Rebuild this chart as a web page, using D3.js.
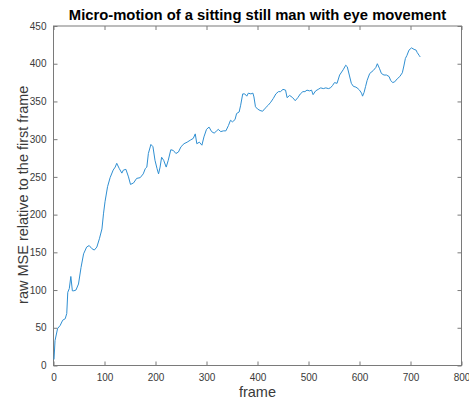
<!DOCTYPE html>
<html>
<head>
<meta charset="utf-8">
<script src="https://cdn.jsdelivr.net/npm/d3@7"></script>
<style>
  html, body { margin: 0; padding: 0; background: #fff; }
  svg { display: block; font-family: "Liberation Sans", Arial, Helvetica, sans-serif; }
</style>
</head>
<body>
<svg id="chart" width="469" height="401"></svg>
<script>
// Frame index and the raw MSE of each frame against the first one
const frames = [1, 3, 8, 13, 18, 23, 26, 28, 31, 34, 37, 40, 44, 49, 54, 59, 65, 70, 75, 80,
  85, 90, 95, 98, 101, 106, 111, 117, 121, 124, 129, 134, 137, 142, 147, 151, 157, 163, 170, 176,
  180, 183, 186, 191, 195, 199, 203, 206, 209, 212, 216, 221, 225, 230, 235, 240, 245, 250, 256, 262,
  269, 274, 278, 281, 286, 291, 295, 300, 305, 310, 315, 320, 323, 328, 333, 338, 343, 347, 351, 356,
  359, 364, 367, 371, 375, 379, 382, 387, 391, 393, 396, 400, 405, 410, 415, 421, 426, 431, 436, 441,
  445, 450, 455, 458, 463, 469, 474, 479, 484, 489, 493, 497, 502, 506, 509, 514, 519, 524, 529, 534,
  539, 543, 547, 551, 556, 561, 565, 568, 573, 576, 580, 584, 588, 593, 597, 600, 604, 606, 609, 612,
  615, 620, 627, 632, 635, 639, 643, 648, 653, 658, 661, 665, 669, 674, 679, 684, 687, 690, 693, 697,
  702, 707, 711, 713, 717, 719];
const mse = [8, 33, 49, 53, 60, 62, 69, 97, 102, 118, 99, 99, 100, 108, 130, 148, 157, 159, 155, 153,
  157, 168, 181, 201, 217, 237, 249, 259, 263, 268, 261, 255, 259, 260, 250, 240, 242, 248, 249, 254,
  261, 263, 281, 293, 290, 272, 261, 254, 263, 276, 272, 263, 272, 286, 285, 281, 283, 290, 294, 296,
  299, 301, 307, 294, 296, 292, 303, 313, 316, 310, 308, 311, 313, 310, 311, 311, 318, 325, 323, 326,
  334, 336, 345, 360, 360, 357, 361, 360, 361, 356, 343, 340, 338, 337, 341, 345, 349, 354, 360, 363,
  363, 366, 365, 355, 358, 355, 351, 355, 360, 363, 363, 365, 364, 365, 359, 364, 366, 368, 367, 368,
  367, 368, 371, 375, 374, 385, 389, 392, 398, 396, 385, 374, 370, 369, 367, 365, 361, 357, 362, 370,
  378, 387, 391, 395, 400, 394, 387, 385, 385, 383, 378, 375, 376, 380, 383, 388, 397, 407, 411, 418,
  421, 419, 418, 415, 411, 409];

const xTicks = [0, 100, 200, 300, 400, 500, 600, 700, 800];
const yTicks = [0, 50, 100, 150, 200, 250, 300, 350, 400, 450];

const titleText = "Micro-motion of a sitting still man with eye movement";
const xLabel = "frame";
const yLabel = "raw MSE relative to the first frame";

const svg = d3.select("#chart");
const box = { left: 53.5, right: 461.5, top: 26, bottom: 365.5 };

const x = d3.scaleLinear().domain([0, 800]).range([box.left, box.right]);
const y = d3.scaleLinear().domain([0, 450]).range([box.bottom, box.top]);

const axisColor = "#7a7a7a";
const textColor = "#3a3a3a";

function styleAxis(g, showText) {
  g.select(".domain").remove();
  g.selectAll(".tick line").attr("stroke", axisColor).attr("stroke-width", 1);
  g.selectAll(".tick text")
    .attr("fill", textColor)
    .style("font-size", "10px")
    .style("display", showText ? null : "none");
}

// bottom and left axes carry the labels; all ticks point inward
svg.append("g")
  .attr("transform", `translate(0,${box.bottom})`)
  .call(d3.axisBottom(x).tickValues(xTicks).tickFormat(d3.format("d"))
    .tickSizeInner(-4).tickSizeOuter(0).tickPadding(8))
  .call(g => styleAxis(g, true));

svg.append("g")
  .attr("transform", `translate(${box.left},0)`)
  .call(d3.axisLeft(y).tickValues(yTicks).tickFormat(d3.format("d"))
    .tickSizeInner(-4).tickSizeOuter(0).tickPadding(7))
  .call(g => styleAxis(g, true));

svg.append("g")
  .attr("transform", `translate(0,${box.top})`)
  .call(d3.axisTop(x).tickValues(xTicks).tickSizeInner(-4).tickSizeOuter(0))
  .call(g => styleAxis(g, false));

svg.append("g")
  .attr("transform", `translate(${box.right},0)`)
  .call(d3.axisRight(y).tickValues(yTicks).tickSizeInner(-4).tickSizeOuter(0))
  .call(g => styleAxis(g, false));

// axes box
svg.append("rect")
  .attr("x", box.left).attr("y", box.top)
  .attr("width", box.right - box.left).attr("height", box.bottom - box.top)
  .attr("fill", "none").attr("stroke", axisColor).attr("stroke-width", 1);

// data line
const line = d3.line()
  .x((d, i) => x(frames[i]))
  .y(d => y(d));

svg.append("path")
  .datum(mse)
  .attr("d", line)
  .attr("fill", "none")
  .attr("stroke", "#2f8fd2")
  .attr("stroke-width", 1)
  .attr("stroke-linejoin", "round");

// title and axis labels
svg.append("text")
  .attr("x", (box.left + box.right) / 2).attr("y", 20)
  .attr("text-anchor", "middle")
  .attr("fill", "#000")
  .style("font-size", "14.8px").style("font-weight", "bold")
  .text(titleText);

svg.append("text")
  .attr("x", x(400)).attr("y", 397)
  .attr("text-anchor", "middle")
  .attr("fill", textColor)
  .style("font-size", "14.5px")
  .text(xLabel);

svg.append("text")
  .attr("transform", `translate(28,${(box.top + box.bottom) / 2 - 1}) rotate(-90)`)
  .attr("text-anchor", "middle")
  .attr("fill", textColor)
  .style("font-size", "14.5px")
  .text(yLabel);
</script>
</body>
</html>
